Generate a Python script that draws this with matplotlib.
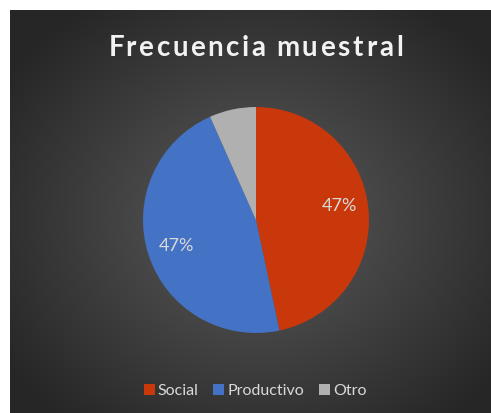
import numpy as np
import matplotlib.pyplot as plt
from matplotlib.patches import Patch
from matplotlib.textpath import TextPath
from matplotlib.font_manager import FontProperties

plt.rcParams['font.family'] = ['Lato', 'DejaVu Sans']

# data
categories = ["Social", "Productivo", "Otro"]
counts = [7, 7, 1]
colors = ["#C8380B", "#4472C4", "#B0B0B0"]
title = "Frecuencia muestral"

W, H = 491, 413
fig = plt.figure(figsize=(W / 100, H / 100), dpi=100)
fig.patch.set_facecolor("white")

# dark radial gradient panel
bg = fig.add_axes([10 / W, 0, (W - 10) / W, (H - 10) / H])
bg.set_axis_off()
yy, xx = np.mgrid[0:403, 0:481]
cx, cy = 246, 210
r = np.sqrt(((xx - cx) / 300.0) ** 2 + ((yy - cy) / 260.0) ** 2)
r = np.clip(r, 0, 1)
c0, c1 = 0.36, 0.15
shade = c0 + (c1 - c0) * r
img = np.dstack([shade, shade, shade])
bg.imshow(img, aspect="auto", interpolation="bilinear")

# pie
pcx, pcy, rad = 256, H - 220, 113
ax = fig.add_axes([(pcx - rad) / W, (pcy - rad) / H, 2 * rad / W, 2 * rad / H])
ax.set_axis_off()


def fmt(p):
    return "" if p < 10 else f"{p:.0f}%"


wedges, texts, autotexts = ax.pie(
    counts, colors=colors, startangle=90, counterclock=False,
    autopct=fmt, pctdistance=0.74, radius=1,
    wedgeprops=dict(linewidth=0),
    textprops=dict(color="#D9D9D9", fontsize=13),
)
ax.set_xlim(-1, 1)
ax.set_ylim(-1, 1)
autotexts[0].set_y(autotexts[0].get_position()[1] + 0.05)

# title with letter spacing, placed glyph by glyph
fsize = 20
fp = FontProperties(family="Lato", weight="bold", size=fsize)
spacing = 1.5  # px
px_per_pt = 100 / 72
advances = []
for ch in title:
    tp = TextPath((0, 0), ch if ch != " " else "a a", prop=fp)
    if ch == " ":
        w_aa = TextPath((0, 0), "aa", prop=fp).get_extents().width
        w = tp.get_extents().width - w_aa
    else:
        w = TextPath((0, 0), ch + "|", prop=fp).get_extents().width - \
            TextPath((0, 0), "|", prop=fp).get_extents().width
    advances.append(w * px_per_pt)
total = sum(advances) + spacing * (len(title) - 1)
x = 256 - total / 2
for ch, adv in zip(title, advances):
    fig.text(x / W, 1 - 45 / H, ch, ha="left", va="center_baseline",
             color="#F2F2F2", fontproperties=fp)
    x += adv + spacing

handles = [Patch(facecolor=c, edgecolor="none") for c in colors]
leg = fig.legend(handles, categories, loc="center", ncol=3,
                 bbox_to_anchor=(255 / W, 22 / H), frameon=False,
                 fontsize=11.5, handlelength=0.7, handleheight=0.7,
                 handletextpad=0.2, columnspacing=0.9)
for t in leg.get_texts():
    t.set_color("#D9D9D9")

fig.savefig("out.png", dpi=100)
